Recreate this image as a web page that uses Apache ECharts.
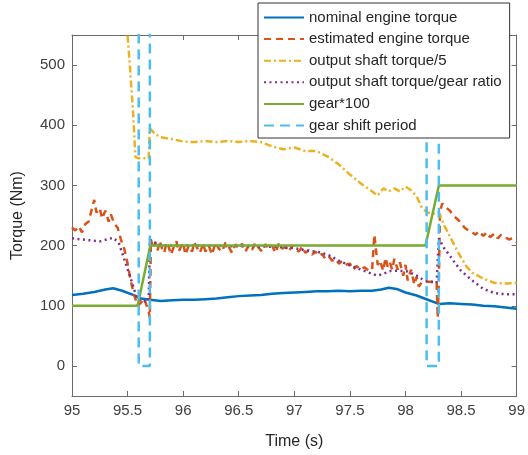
<!DOCTYPE html>
<html>
<head>
<meta charset="utf-8">
<script src="https://cdn.jsdelivr.net/npm/echarts@6/dist/echarts.min.js"></script>
<style>
  html, body { margin: 0; padding: 0; background: #fff; }
  #chart { width: 528px; height: 455px; }
</style>
</head>
<body>
<div id="chart"></div>
<script>
// tick values
var yTicks = [0, 100, 200, 300, 400, 500]

// nominal engine torque
var nomT = [95, 95.1, 95.2, 95.3, 95.37, 95.45, 95.55, 95.62, 95.7, 95.8, 95.9, 96, 96.1, 96.2, 96.3, 96.4, 96.5, 96.6, 96.7, 96.8, 96.9, 97, 97.1, 97.2, 97.3, 97.4, 97.5, 97.6, 97.7, 97.78, 97.85, 97.92, 98, 98.1, 98.2, 98.3, 98.4, 98.5, 98.6, 98.7, 98.8, 98.9, 99]
var nomV = [118, 120, 123, 127, 129, 125, 118, 112, 110, 108, 109, 110, 110, 111, 112, 114, 116, 117, 118, 120, 121, 122, 123, 124, 124, 125, 124, 125, 125, 127, 130, 128, 122, 117, 110, 103, 104, 103, 102, 100, 99, 97, 95]

// estimated engine torque (noisy)
var estT = [95, 95.03, 95.06, 95.09, 95.12, 95.15, 95.18, 95.2, 95.22, 95.25, 95.27, 95.3, 95.33, 95.35, 95.38, 95.41, 95.44, 95.47, 95.5, 95.53, 95.56, 95.59, 95.62, 95.65, 95.69, 95.7,
  95.71, 95.73, 95.75, 95.77, 95.79, 95.81, 95.83, 95.85, 95.87, 95.89, 95.92, 95.94, 95.96, 95.98, 96, 96.02, 96.05, 96.08, 96.1, 96.13, 96.15, 96.18, 96.2, 96.23, 96.26, 96.29,
  96.32, 96.35, 96.38, 96.41, 96.44, 96.47, 96.5, 96.53, 96.56, 96.59, 96.62, 96.65, 96.68, 96.71, 96.74, 96.77, 96.8, 96.83, 96.86, 96.89, 96.92, 96.95, 96.98,
  97.01, 97.04, 97.07, 97.1, 97.13, 97.16, 97.19, 97.22, 97.25, 97.28, 97.31, 97.34, 97.37, 97.4, 97.43, 97.46, 97.5, 97.53, 97.56, 97.6, 97.63, 97.67, 97.7, 97.72, 97.73,
  97.75, 97.77, 97.8, 97.82, 97.84, 97.86, 97.88, 97.9, 97.93, 97.95, 97.98, 98, 98.02, 98.05, 98.08, 98.1, 98.12, 98.15, 98.2, 98.25, 98.28, 98.29, 98.3,
  98.31, 98.33, 98.36, 98.4, 98.43, 98.46, 98.5, 98.53, 98.56, 98.6, 98.63, 98.66, 98.7, 98.73, 98.76, 98.8, 98.83, 98.86, 98.9, 98.93, 98.96, 99]
var estV = [230, 225, 232, 222, 236, 240, 262, 276, 255, 262, 245, 258, 240, 252, 236, 230, 210, 195, 170, 140, 118, 100, 105, 112, 90, 80,
  210, 195, 205, 192, 208, 195, 188, 205, 198, 185, 200, 207, 190, 198, 205, 185, 200, 190, 205, 195, 188, 203, 190, 200, 185, 205,
  195, 190, 205, 198, 188, 202, 195, 203, 190, 200, 193, 205, 196, 190, 202, 195, 200, 188, 203, 195, 198, 190, 200,
  195, 190, 198, 188, 192, 185, 190, 183, 186, 178, 182, 175, 178, 170, 174, 168, 170, 160, 166, 160, 164, 158, 160, 218, 200,
  168, 175, 158, 180, 165, 172, 160, 178, 160, 172, 150, 168, 142, 160, 135, 148, 132, 140, 140, 140, 140, 80, 140,
  255, 270, 264, 258, 250, 245, 238, 230, 226, 222, 218, 224, 216, 222, 214, 220, 212, 218, 214, 210, 212, 206]

// output shaft torque / 5
var shaftT = [95, 95.45, 95.5, 95.52, 95.55, 95.57, 95.6, 95.69, 95.7, 95.75, 95.8, 95.9, 96, 96.1, 96.2, 96.3, 96.4, 96.5, 96.6, 96.7, 96.8, 96.9, 97, 97.1, 97.2, 97.3, 97.4, 97.5, 97.6, 97.7, 97.75, 97.8, 97.85, 97.9, 97.95, 98, 98.05, 98.1, 98.15, 98.2, 98.25, 98.3, 98.35, 98.4, 98.45, 98.5, 98.55, 98.6, 98.7, 98.8, 98.9, 99]
var shaftV = [620, 580, 550, 500, 420, 347, 345, 345, 395, 385, 380, 377, 373, 372, 374, 372, 374, 372, 374, 372, 365, 360, 363, 357, 357, 348, 335, 318, 303, 290, 283, 295, 290, 295, 290, 298, 292, 282, 262, 255, 253, 255, 233, 215, 197, 180, 165, 155, 145, 138, 137, 138]

// output shaft torque / gear ratio
var ratioT = [95, 95.1, 95.25, 95.37, 95.42, 95.46, 95.52, 95.58, 95.62, 95.69, 95.7, 95.75, 95.8, 95.9, 96, 96.2, 96.4, 96.6, 96.8, 97, 97.1, 97.2, 97.3, 97.4, 97.5, 97.6, 97.7, 97.75, 97.8, 97.87, 97.95, 98.02, 98.1, 98.17, 98.28, 98.3, 98.35, 98.4, 98.45, 98.5, 98.55, 98.6, 98.7, 98.8, 98.9, 99]
var ratioV = [212, 210, 207, 213, 205, 183, 150, 115, 107, 108, 210, 205, 200, 200, 200, 200, 199, 199, 198, 196, 192, 190, 185, 175, 167, 160, 153, 150, 153, 158, 158, 157, 150, 142, 138, 212, 195, 183, 170, 158, 150, 142, 128, 121, 119, 119]

// gear * 100
var gearT = [95, 95.59, 95.705, 98.18, 98.3, 99]
var gearV = [100, 100, 200, 200, 300, 300]

// gear shift period (high outside the shift, 0 during it)
var shiftT = [95, 95.6, 95.6, 95.7, 95.7, 98.19, 98.19, 98.3, 98.3, 99]
var shiftV = [1000, 1000, 0, 0, 1000, 1000, 0, 0, 1000, 1000]

function zip(t, v) {
    return t.map(function (x, i) { return [x, v[i]] })
}

var chart = echarts.init(document.getElementById('chart'))
var font = "'Liberation Sans', Arial, sans-serif"
var axisCol = '#6a6a6a'

function mkLine(name, t, v, color, type, width) {
    return {
        name: name,
        type: 'line',
        data: zip(t, v),
        showSymbol: false,
        symbol: 'none',
        clip: true,
        lineStyle: { color: color, width: width, type: type },
        itemStyle: { color: color },
    }
}

var tickStyle = { inside: true, length: 5, lineStyle: { color: axisCol } }

var option = {
    animation: false,
    backgroundColor: '#fff',
    textStyle: { fontFamily: font },
    grid: { left: 72, right: 8, top: 35, bottom: 59, containLabel: false },
    legend: {
        orient: 'vertical',
        left: 258,
        top: 3,
        padding: [7, 8, 5, 5],
        itemWidth: 40,
        itemHeight: 14,
        itemGap: 6.6,
        selectedMode: false,
        backgroundColor: '#fff',
        borderColor: '#333',
        borderWidth: 1,
        itemStyle: { opacity: 0 },
        textStyle: { fontSize: 15, color: '#262626', fontFamily: font },
        data: ['nominal engine torque', 'estimated engine torque', 'output shaft torque/5',
            'output shaft torque/gear ratio', 'gear*100', 'gear shift period'],
    },
    xAxis: [
        {
            type: 'value',
            min: 95,
            max: 99,
            interval: 0.5,
            name: 'Time (s)',
            nameLocation: 'middle',
            nameGap: 38,
            nameTextStyle: { fontSize: 16, color: '#262626' },
            axisLine: { onZero: false, lineStyle: { color: axisCol } },
            axisTick: tickStyle,
            axisLabel: { fontSize: 15, color: '#404040', margin: 7 },
            splitLine: { show: false },
        },
        {
            type: 'value',
            position: 'top',
            min: 95,
            max: 99,
            interval: 0.5,
            axisLine: { onZero: false, lineStyle: { color: axisCol } },
            axisTick: tickStyle,
            axisLabel: { show: false },
            splitLine: { show: false },
        },
    ],
    yAxis: [
        {
            type: 'value',
            min: -50,
            max: 550,
            name: 'Torque (Nm)',
            nameLocation: 'middle',
            nameGap: 46,
            nameTextStyle: { fontSize: 16, color: '#262626' },
            axisLine: { show: true, onZero: false, lineStyle: { color: axisCol } },
            axisTick: { show: true, inside: true, length: 5, customValues: yTicks, lineStyle: { color: axisCol } },
            axisLabel: { fontSize: 15, color: '#404040', margin: 7, customValues: yTicks },
            splitLine: { show: false },
        },
        {
            type: 'value',
            position: 'right',
            min: -50,
            max: 550,
            axisLine: { show: true, onZero: false, lineStyle: { color: axisCol } },
            axisTick: { show: true, inside: true, length: 5, customValues: yTicks, lineStyle: { color: axisCol } },
            axisLabel: { show: false },
            splitLine: { show: false },
        },
    ],
    series: [
        mkLine('nominal engine torque', nomT, nomV, '#0072BD', 'solid', 2.5),
        mkLine('estimated engine torque', estT, estV, '#D95319', [7, 5], 2.5),
        mkLine('output shaft torque/5', shaftT, shaftV, '#EDB120', [7, 3, 2, 3], 2.5),
        mkLine('output shaft torque/gear ratio', ratioT, ratioV, '#7E2F8E', [2, 3.5], 2.5),
        mkLine('gear*100', gearT, gearV, '#77AC30', 'solid', 2.5),
        mkLine('gear shift period', shiftT, shiftV, '#4DBEEE', [10, 6], 2.5),
    ],
}
chart.setOption(option)
</script>
</body>
</html>
